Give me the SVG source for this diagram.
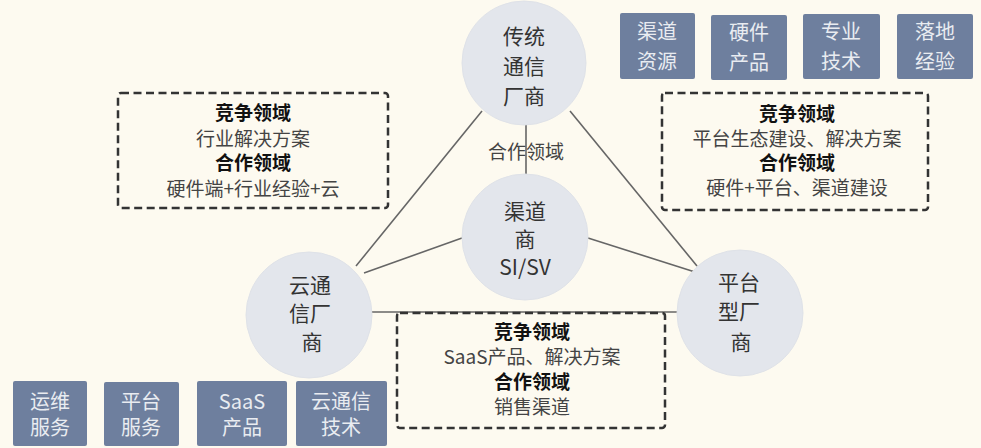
<svg xmlns="http://www.w3.org/2000/svg" width="981" height="448" viewBox="0 0 981 448">
<style>
text{font-family:"Noto Sans CJK SC","Noto Sans",sans-serif;text-anchor:middle;}
.c{fill:#e3e6ec;stroke:#dfe2e8;stroke-width:1}
.ct{font-size:21px;fill:#333;}
.dash{fill:none;stroke:#333;stroke-width:2.5;stroke-dasharray:8 4.5}
.bt{font-size:19px;fill:#444;}
.bb{font-size:19px;fill:#111;font-weight:bold;}
.tag{fill:#6e7f9e;}
.tt{font-size:20px;fill:#e9ecf1;}
.ln{stroke:#666;stroke-width:1.6;fill:none}
</style>
<rect width="981" height="448" fill="#fdfaf0"/>
<g id="connectors">
<line class="ln" x1="482" y1="111" x2="356" y2="266"/>
<line class="ln" x1="570" y1="111" x2="697" y2="266"/>
<line class="ln" x1="462" y1="238" x2="364" y2="273"/>
<line class="ln" x1="588" y1="238" x2="695" y2="272"/>
<line class="ln" x1="526" y1="124" x2="526" y2="176"/>
<line class="ln" x1="371" y1="312" x2="678" y2="312"/>
<text x="526" y="159" style="font-size:19px;fill:#444">合作领域</text>
</g>
<g id="node-traditional">
<circle class="c" cx="524" cy="63" r="62"/>
<text class="ct" x="524" y="44">传统</text>
<text class="ct" x="524" y="74">通信</text>
<text class="ct" x="524" y="104">厂商</text>
</g>
<g id="node-channel">
<circle class="c" cx="525" cy="237" r="63"/>
<text class="ct" x="525" y="219">渠道</text>
<text class="ct" x="525" y="247">商</text>
<text class="ct" x="525" y="275">SI/SV</text>
</g>
<g id="node-cloud">
<circle class="c" cx="309" cy="315" r="63"/>
<text class="ct" x="310" y="293">云通</text>
<text class="ct" x="310" y="321">信厂</text>
<text class="ct" x="312" y="350">商</text>
</g>
<g id="node-platform">
<circle class="c" cx="740" cy="313" r="63"/>
<text class="ct" x="739" y="290">平台</text>
<text class="ct" x="739" y="319">型厂</text>
<text class="ct" x="741" y="350">商</text>
</g>
<g id="box-left">
<rect class="dash" x="118" y="93" width="270" height="115" rx="3"/>
<text class="bb" x="253" y="120">竞争领域</text>
<text class="bt" x="253" y="146">行业解决方案</text>
<text class="bb" x="253" y="170">合作领域</text>
<text class="bt" x="253" y="196">硬件端+行业经验+云</text>
</g>
<g id="box-right">
<rect class="dash" x="662" y="93" width="266" height="117" rx="3"/>
<text class="bb" x="797" y="121">竞争领域</text>
<text class="bt" x="797" y="146">平台生态建设、解决方案</text>
<text class="bb" x="797" y="170">合作领域</text>
<text class="bt" x="797" y="195">硬件+平台、渠道建设</text>
</g>
<g id="box-bottom">
<rect class="dash" x="397" y="313" width="268" height="115" rx="3"/>
<text class="bb" x="532" y="339">竞争领域</text>
<text class="bt" x="532" y="364">SaaS产品、解决方案</text>
<text class="bb" x="532" y="389">合作领域</text>
<text class="bt" x="532" y="414">销售渠道</text>
</g>
<g id="tag-channel-res">
<rect class="tag" x="620" y="13" width="75" height="66" rx="2"/>
<text class="tt" x="657" y="39">渠道</text>
<text class="tt" x="657" y="69">资源</text>
</g>
<g id="tag-hardware">
<rect class="tag" x="711" y="15" width="76" height="65" rx="2"/>
<text class="tt" x="749" y="40">硬件</text>
<text class="tt" x="749" y="70">产品</text>
</g>
<g id="tag-tech">
<rect class="tag" x="803" y="14" width="77" height="65" rx="2"/>
<text class="tt" x="841" y="39">专业</text>
<text class="tt" x="841" y="69">技术</text>
</g>
<g id="tag-exp">
<rect class="tag" x="897" y="14" width="76" height="65" rx="2"/>
<text class="tt" x="935" y="39">落地</text>
<text class="tt" x="935" y="69">经验</text>
</g>
<g id="tag-ops">
<rect class="tag" x="13" y="381" width="74" height="65" rx="2"/>
<text class="tt" x="50" y="409">运维</text>
<text class="tt" x="50" y="435">服务</text>
</g>
<g id="tag-platform">
<rect class="tag" x="104" y="382" width="75" height="64" rx="2"/>
<text class="tt" x="141" y="409">平台</text>
<text class="tt" x="141" y="435">服务</text>
</g>
<g id="tag-saas">
<rect class="tag" x="197" y="381" width="90" height="65" rx="2"/>
<text class="tt" x="242" y="409">SaaS</text>
<text class="tt" x="242" y="435">产品</text>
</g>
<g id="tag-cloudtech">
<rect class="tag" x="296" y="381" width="91" height="65" rx="2"/>
<text class="tt" x="341" y="409">云通信</text>
<text class="tt" x="341" y="435">技术</text>
</g>
</svg>
